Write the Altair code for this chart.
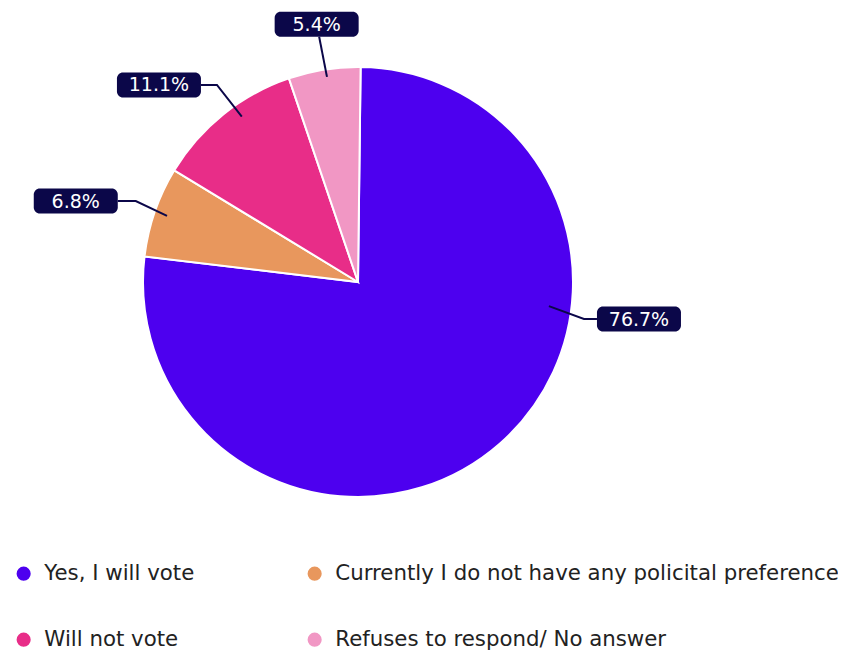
import math
import pandas as pd
import altair as alt

# ---- data ----
categories = [
    "Yes, I will vote",
    "Currently I do not have any policital preference",
    "Will not vote",
    "Refuses to respond/ No answer",
]
values = [76.7, 6.8, 11.1, 5.4]
labels = ["76.7%", "6.8%", "11.1%", "5.4%"]

# ---- styling / layout ----
colors = ["#4d00ef", "#e8975d", "#e82d88", "#f197c4"]
NAVY = "#0b0749"
FONT = "DejaVu Sans"
W, H = 830, 642
R = 215
CX, CY = 350, 274
START = math.radians(0.7)
# leader line geometry per label: (angle deg, radius in pie radii)
anchor_pos = [(97.2, 0.895), (289.1, 0.94), (324.9, 0.94), (351.4, 0.965)]
elbow_pos = [(99.3, 1.065), (290.0, 1.10), (324.4, 1.127), (351.0, 1.155)]
label_side = ["right", "left", "left", "up"]
label_gap = [13, 18, 16, 0]
BOX_W, BOX_H = 84, 25


def polar(deg, r):
    t = math.radians(deg)
    return CX + r * R * math.sin(t), CY - r * R * math.cos(t)


pie_df = pd.DataFrame({"category": categories, "value": values,
                       "idx": list(range(len(values)))})

line_rows, box_rows = [], []
for i, lab in enumerate(labels):
    ax, ay = polar(*anchor_pos[i])
    ex, ey = polar(*elbow_pos[i])
    side, gap = label_side[i], label_gap[i]
    if side == "right":
        bx0 = ex + gap
        bx1, by0, by1 = bx0 + BOX_W, ey - BOX_H / 2, ey + BOX_H / 2
        px, py = bx0, ey
    elif side == "left":
        bx1 = ex - gap
        bx0, by0, by1 = bx1 - BOX_W, ey - BOX_H / 2, ey + BOX_H / 2
        px, py = bx1, ey
    else:
        by1 = ey
        by0 = ey - BOX_H
        bx0, bx1 = ex - 2.5 - BOX_W / 2, ex - 2.5 + BOX_W / 2
        px, py = ex, ey
    for k, (x, y) in enumerate([(ax, ay), (ex, ey), (px, py)]):
        line_rows.append({"label": lab, "step": k, "x": x, "y": y})
    box_rows.append({"label": lab, "x0": bx0, "x1": bx1, "y0": by0, "y1": by1,
                     "xc": (bx0 + bx1) / 2, "yc": (by0 + by1) / 2 + 0.5})

line_df = pd.DataFrame(line_rows)
box_df = pd.DataFrame(box_rows)

xs = alt.Scale(domain=[0, W], range=[0, W], nice=False, zero=False)
ys = alt.Scale(domain=[0, H], range=[0, H], nice=False, zero=False)

arcs = alt.Chart(pie_df).mark_arc(outerRadius=R, stroke="white", strokeWidth=2).encode(
    x=alt.datum(CX, scale=xs, axis=None),
    y=alt.datum(CY, scale=ys, axis=None),
    theta=alt.Theta("value:Q", stack=True,
                    scale=alt.Scale(range=[START, START + 2 * math.pi])),
    order=alt.Order("idx:Q"),
    color=alt.Color(
        "category:N",
        scale=alt.Scale(domain=categories, range=colors),
        legend=alt.Legend(
            title=None, orient="none", legendX=5, legendY=555, columns=2,
            direction="horizontal",
            columnPadding=109, rowPadding=44, symbolType="circle",
            symbolSize=200, symbolStrokeWidth=0, labelFontSize=21.3,
            labelFont=FONT, labelColor="#222222", labelOffset=10,
            labelLimit=700, padding=0,
        ),
    ),
)

lines = alt.Chart(line_df).mark_line(color=NAVY, strokeWidth=2).encode(
    x=alt.X("x:Q", scale=xs, axis=None),
    y=alt.Y("y:Q", scale=ys, axis=None),
    detail="label:N",
    order="step:Q",
)

boxes = alt.Chart(box_df).mark_rect(color=NAVY, cornerRadius=6).encode(
    x=alt.X("x0:Q", scale=xs, axis=None),
    x2="x1:Q",
    y=alt.Y("y0:Q", scale=ys, axis=None),
    y2="y1:Q",
)

texts = alt.Chart(box_df).mark_text(
    color="white", fontSize=19, font=FONT, align="center", baseline="middle"
).encode(
    x=alt.X("xc:Q", scale=xs, axis=None),
    y=alt.Y("yc:Q", scale=ys, axis=None),
    text="label:N",
)

chart = alt.layer(arcs, lines, boxes, texts).properties(
    width=W, height=H, padding=0, autosize="none"
).configure_view(stroke=None)

chart.save("out.html", embed_options={"renderer": "svg", "actions": False})
